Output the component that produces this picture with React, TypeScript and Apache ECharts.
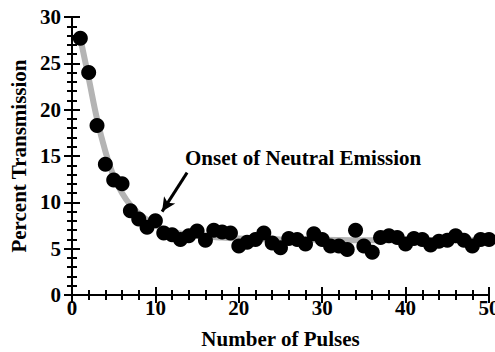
import React, { useEffect, useRef } from "react";
import * as echarts from "echarts";

const pulses = [1,2,3,4,5,6,7,8,9,10,11,12,13,14,15,16,17,18,19,20,21,22,23,24,25,26,27,28,29,30,31,32,33,34,35,36,37,38,39,40,41,42,43,44,45,46,47,48,49,50];
const transmission = [27.7,24.0,18.3,14.1,12.4,12.0,9.1,8.2,7.3,8.0,6.7,6.5,6.0,6.4,6.9,5.9,7.0,6.8,6.7,5.3,5.7,6.0,6.7,5.6,5.1,6.1,6.0,5.5,6.6,6.0,5.3,5.3,4.9,7.0,5.3,4.6,6.2,6.4,6.2,5.5,6.1,6.0,5.4,5.8,5.9,6.4,5.9,5.3,6.0,6.0];
const fitX = [1,2,3,4,5,6,7,8,9,10,11,12,14,16,18,20,25,30,35,40,45,50];
const fitY = [27.7,23.4,19.0,15.5,12.8,11.0,9.7,8.8,8.1,7.5,7.1,6.8,6.5,6.3,6.2,6.1,6.0,5.95,5.9,5.9,5.9,5.9];
const xTicks = { min: 0, max: 50, interval: 10 };
const yTicks = { min: 0, max: 30, interval: 5 };
const annotationText = "Onset of Neutral Emission";
const arrowFrom = [13.8, 13.2];
const arrowTo = [10.8, 9.0];

const FONT = "Liberation Serif";

export default function App() {
  const ref = useRef<HTMLDivElement>(null);
  useEffect(() => {
    if (!ref.current) return;
    const chart = echarts.init(ref.current, null, { renderer: "svg" });
    const axisCommon = {
      axisLine: { show: true, lineStyle: { color: "#000", width: 2 } },
      axisTick: { show: true, inside: true, length: 8, lineStyle: { color: "#000", width: 2 } },
      minorTick: { show: true, splitNumber: 5, length: 5, lineStyle: { color: "#000", width: 2 } },
      splitLine: { show: false },
      minorSplitLine: { show: false },
    };
    const labelStyle = { color: "#000", fontFamily: FONT, fontWeight: "bold" as const, fontSize: 21 };
    chart.setOption({
      animation: false,
      backgroundColor: "#fff",
      grid: { left: 72, right: 6, top: 17, bottom: 57, containLabel: false, outerBoundsMode: "none" },
      xAxis: [
        {
          type: "value", ...xTicks, position: "bottom", ...axisCommon,
          axisLabel: { ...labelStyle, margin: 2, alignMaxLabel: "center", alignMinLabel: "center", hideOverlap: false },
          name: "Number of Pulses", nameLocation: "middle", nameGap: 33,
          nameTextStyle: { ...labelStyle },
        },
        {
          type: "value", ...xTicks, position: "top", ...axisCommon,
          axisLabel: { show: false },
        },
      ],
      yAxis: [
        {
          type: "value", ...yTicks, position: "left", ...axisCommon,
          axisLabel: { ...labelStyle, margin: 11 },
          name: "Percent Transmission", nameLocation: "middle", nameGap: 37,
          nameTextStyle: { ...labelStyle },
        },
        {
          type: "value", ...yTicks, position: "right", ...axisCommon,
          axisLabel: { show: false },
        },
      ],
      series: [
        {
          type: "line",
          data: fitX.map((x, i) => [x, fitY[i]]),
          smooth: 0.4,
          symbol: "none",
          lineStyle: { color: "#b4b4b4", width: 6 },
          z: 1,
        },
        {
          type: "scatter",
          data: pulses.map((x, i) => [x, transmission[i]]),
          symbol: "circle",
          symbolSize: 15,
          itemStyle: { color: "#000", opacity: 1 },
          z: 2,
          markLine: {
            silent: true,
            symbol: ["none", "arrow"],
            symbolSize: [10, 14],
            label: { show: false },
            lineStyle: { color: "#000", width: 3, type: "solid" },
            data: [[{ coord: arrowFrom }, { coord: arrowTo }]],
          },
        },
      ],
      graphic: [
        {
          type: "text",
          left: 185,
          top: 147,
          style: { text: annotationText, fill: "#000", fontFamily: FONT, fontWeight: "bold", fontSize: 21 },
        },
      ],
    });
    return () => chart.dispose();
  }, []);
  return <div ref={ref} style={{ position: "fixed", left: 0, top: 0, width: 495, height: 352 }} />;
}
